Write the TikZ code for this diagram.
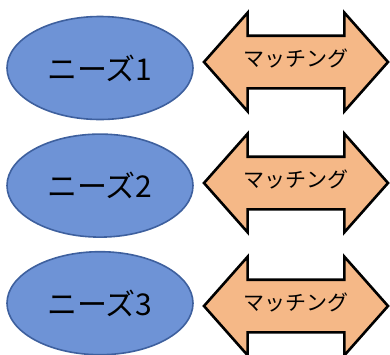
\documentclass[tikz,border=0pt]{standalone}
\usepackage{fontspec}
\setmainfont{Noto Sans CJK JP}
\usetikzlibrary{shapes.geometric, shapes.arrows, positioning}
\definecolor{needblue}{HTML}{6E93D6}
\definecolor{needline}{HTML}{3E609E}
\definecolor{matchorange}{HTML}{F5B887}

\begin{document}
\begin{tikzpicture}[x=1pt, y=1pt, node distance=13pt,
  need/.style={ellipse, draw=needline, line width=1.6pt, fill=needblue, minimum width=186pt, minimum height=103pt, font=\fontsize{30}{30}\selectfont},
  match/.style={double arrow, draw=black, line width=2.6pt, fill=matchorange, minimum height=184pt, text height=15pt, text depth=7pt, inner ysep=14pt, inner xsep=2pt, double arrow head extend=23pt, double arrow tip angle=97, font=\fontsize{21}{21}\selectfont}
]
\useasboundingbox (0,0) rectangle (390,-354);

\node (need1) [need] at (100,-68) {ニーズ1};
\node (need2) [need, below=of need1] {ニーズ2};
\node (need3) [need, below=of need2] {ニーズ3};

\node (match1) [match] at (296,-62) {マッチング};
\node (match2) [match] at (296,-183) {マッチング};
\node (match3) [match] at (296,-306) {マッチング};

\end{tikzpicture}
\end{document}
